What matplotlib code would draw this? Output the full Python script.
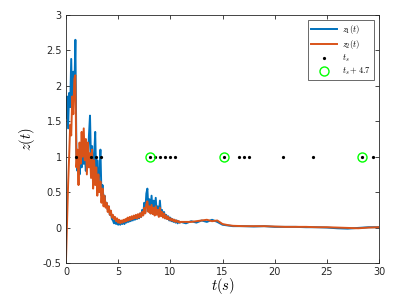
import numpy as np
import matplotlib
matplotlib.use("Agg")
import matplotlib.pyplot as plt

plt.rcParams['mathtext.fontset'] = 'cm'
plt.rcParams['font.family'] = ['DejaVu Sans']

# fine time grid 0..11 step 0.1, then coarse tail
t_fine = [round(0.1 * i, 1) for i in range(111)]
t_tail = [11.5, 12, 12.5, 13, 13.5, 14, 14.5, 15, 15.5, 16, 17, 18, 19, 20,
          21, 22, 23, 24, 25, 26, 27, 28, 29, 30]

z1_fine = [1.55, 1.85, 1.40, 1.90, 1.70, 2.38, 1.60, 2.20, 1.90, 2.65,
           1.00, 0.80, 1.05, 0.75, 1.10, 0.85, 1.20, 0.90, 1.05, 0.80,
           1.10, 0.95, 1.30, 1.58, 0.90, 1.15, 0.70, 1.00, 1.35, 0.65,
           0.95, 0.55, 0.80, 1.10, 0.45, 0.60, 0.40, 0.45, 0.30, 0.35,
           0.25, 0.30, 0.18, 0.22, 0.12, 0.10, 0.06, 0.10, 0.05, 0.08,
           0.04, 0.07, 0.04, 0.08, 0.05, 0.09, 0.05, 0.11, 0.07, 0.12,
           0.08, 0.13, 0.09, 0.15, 0.10, 0.15, 0.11, 0.17, 0.12, 0.18,
           0.13, 0.20, 0.15, 0.25, 0.18, 0.35, 0.22, 0.48, 0.55, 0.25,
           0.40, 0.20, 0.45, 0.22, 0.38, 0.18, 0.42, 0.20, 0.30, 0.16,
           0.38, 0.18, 0.25, 0.15, 0.22, 0.13, 0.18, 0.12, 0.16, 0.10,
           0.14, 0.09, 0.12, 0.08, 0.11, 0.07, 0.10, 0.06, 0.09, 0.07,
           0.08]
z1_tail = [0.06, 0.09, 0.07, 0.10, 0.08, 0.11, 0.08, 0.04, 0.03, 0.02,
           0.02, 0.015, 0.02, 0.01, 0.01, 0.01, 0.005, 0.005, 0.0, -0.01,
           -0.015, -0.005, 0.005, 0.005]

z2_fine = [-0.45, 0.10, 0.60, 1.00, 1.45, 1.30, 1.85, 1.60, 2.10, 2.15,
           0.85, 1.10, 0.60, 1.20, 0.90, 1.35, 1.00, 1.40, 0.95, 1.25,
           0.75, 1.20, 0.85, 1.05, 0.70, 1.10, 0.55, 0.95, 0.60, 0.85,
           0.45, 0.75, 0.50, 0.65, 0.35, 0.55, 0.30, 0.45, 0.28, 0.35,
           0.22, 0.30, 0.18, 0.24, 0.14, 0.18, 0.12, 0.15, 0.09, 0.13,
           0.07, 0.11, 0.06, 0.10, 0.07, 0.11, 0.08, 0.12, 0.09, 0.14,
           0.10, 0.15, 0.11, 0.16, 0.12, 0.17, 0.13, 0.18, 0.13, 0.19,
           0.14, 0.20, 0.15, 0.22, 0.17, 0.28, 0.20, 0.33, 0.37, 0.22,
           0.30, 0.20, 0.32, 0.19, 0.28, 0.17, 0.30, 0.18, 0.25, 0.15,
           0.28, 0.16, 0.22, 0.14, 0.20, 0.13, 0.17, 0.12, 0.15, 0.11,
           0.13, 0.10, 0.12, 0.09, 0.11, 0.08, 0.10, 0.08, 0.09, 0.07,
           0.08]
z2_tail = [0.08, 0.08, 0.09, 0.10, 0.11, 0.09, 0.10, 0.05, 0.035, 0.025,
           0.02, 0.02, 0.02, 0.015, 0.01, 0.01, 0.01, 0.005, 0.005, 0.0,
           -0.005, -0.01, 0.0, 0.005]

t_s = [0.93, 2.37, 2.85, 3.35, 8.05, 8.57, 9.01, 9.49, 9.97, 10.45,
       15.15, 16.55, 17.04, 17.5, 20.8, 23.65, 28.35, 29.4]
t_s_shift_base = [3.35, 10.45, 23.65]
shift = 4.7

t = np.array(t_fine + t_tail)
z1 = np.array(z1_fine + z1_tail)
z2 = np.array(z2_fine + z2_tail)

fig = plt.figure(figsize=(4.17, 2.96), dpi=100)
ax = fig.add_axes([66/417, 33/296, 313/417, 248/296])

ax.plot(t, z1, color='#0072BD', lw=1.4, label=r'$z_1(t)$')
ax.plot(t, z2, color='#D95319', lw=1.4, label=r'$z_2(t)$')
ax.plot(t_s, np.ones(len(t_s)), 'k.', ms=2.6, ls='none', label=r'$t_s$')
ax.plot(np.array(t_s_shift_base) + shift, np.ones(len(t_s_shift_base)),
        'o', mfc='none', mec='#00FF00', mew=1.0, ms=6.5, ls='none',
        label=r'$t_s+4.7$')

ax.set_xlim(0, 30)
ax.set_ylim(-0.5, 3)
ax.set_xticks(np.arange(0, 31, 5))
ax.set_yticks([-0.5, 0, 0.5, 1, 1.5, 2, 2.5, 3])
ax.set_yticklabels(['-0.5', '0', '0.5', '1', '1.5', '2', '2.5', '3'])
ax.tick_params(direction='in', top=True, right=True, labelsize=7,
               length=3, width=0.6, colors='#262626', pad=3)
for s in ax.spines.values():
    s.set_color('#262626')
    s.set_linewidth(0.6)

ax.set_xlabel(r'$t(s)$', fontsize=10.5, labelpad=-1)
ax.set_ylabel(r'$z(t)$', fontsize=10.5, labelpad=4)

leg = ax.legend(loc='upper right', fontsize=6.2, frameon=True, fancybox=False,
                edgecolor='#262626', borderpad=0.35, labelspacing=0.2,
                handlelength=3.0, handletextpad=0.6, borderaxespad=0.6)
leg.get_frame().set_linewidth(0.6)

fig.savefig('out.png', dpi=100, facecolor='white')
